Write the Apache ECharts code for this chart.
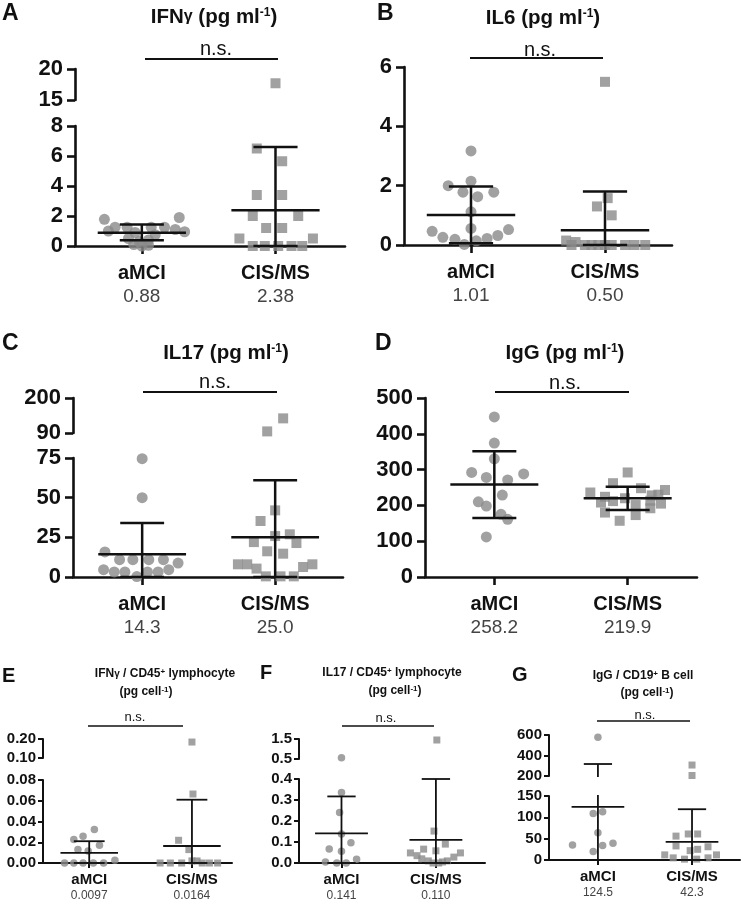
<!DOCTYPE html>
<html>
<head>
<meta charset="utf-8">
<script src="https://cdn.jsdelivr.net/npm/echarts@6/dist/echarts.min.js"></script>
<style>html,body{margin:0;padding:0;background:#fff}#c{width:744px;height:904px}</style>
</head>
<body>
<div id="c"></div>
<script>
// ---------------- DATA ----------------
const categories = ['aMCI', 'CIS/MS'];

// A: IFNγ (pg/ml)
const ifngAmci = [1.78, 1.9, 1.25, 1.25, 1.25, 1.25, 1.1, 1.0, 0.95, 0.9, 0.75, 0.5, 0.4, 0.3, 0.1, 0.05, 0.0];
const ifngAmciJitter = [-0.28, 0.28, -0.2, -0.11, 0.07, 0.17, 0.25, -0.25, 0.32, -0.05, 0.1, -0.1, 0.05, -0.02, -0.06, 0.05, 0.0];
const ifngCis = [17.7, 6.5, 5.65, 3.4, 3.4, 2.0, 2.0, 1.2, 1.2, 0.5, 0.5, 0.0, 0.0, 0.0, 0.0, 0.0];
const ifngCisJitter = [0, -0.14, 0.05, -0.14, 0.05, -0.17, 0.17, -0.07, 0.05, -0.27, 0.28, -0.17, -0.08, 0.02, 0.12, 0.2];
const ifngMean = [0.88, 2.38];
const ifngSdLow = [0.38, 0];
const ifngSdHigh = [1.44, 6.6];
const ifngLowerTicks = [0, 2, 4, 6, 8];
const ifngUpperTicks = [15, 20];

// B: IL6 (pg/ml)
const il6Amci = [3.17, 2.15, 2.0, 1.78, 1.63, 1.78, 1.12, 0.56, 0.46, 0.52, 0.26, 0.32, 0.19, 0.22, 0.14, 0.02];
const il6AmciJitter = [0, 0, -0.17, -0.06, 0.05, 0.17, 0, 0, -0.29, 0.28, -0.21, 0.2, -0.12, 0.12, 0.04, -0.05];
const il6Cis = [5.5, 1.58, 1.3, 1.0, 0.15, 0.1, 0, 0, 0, 0, 0, 0, 0, 0, 0];
const il6CisJitter = [0, 0.02, -0.06, 0.05, -0.29, -0.22, -0.25, -0.15, -0.05, 0.0, 0.05, 0.15, 0.22, 0.3, -0.1];
const il6Mean = [1.01, 0.50];
const il6SdLow = [0.06, 0];
const il6SdHigh = [1.97, 1.8];
const il6LowerTicks = [0, 2, 4, 6];

// C: IL17 (pg/ml)
const il17Amci = [74.6, 50, 15.8, 10.9, 10.9, 10.9, 10.9, 8.8, 4.6, 3.2, 3.2, 0.3, 3.2, 3.2, 4.6];
const il17AmciJitter = [0, 0, -0.28, -0.17, -0.07, 0.05, 0.16, 0.27, -0.29, -0.21, -0.13, -0.04, 0.04, 0.12, 0.2];
const il17Cis = [136, 95, 42, 35.3, 26.9, 25.8, 22, 21.4, 16.2, 14.7, 8, 8, 5.3, 6.3, 8, 0.4, 0.4, 0.4];
const il17CisJitter = [0.06, -0.06, 0, -0.11, 0.11, 0, -0.16, 0.16, -0.06, 0.06, -0.28, -0.21, -0.14, 0.21, 0.28, -0.07, 0.04, 0.14];
const il17Mean = [14.3, 25.0];
const il17SdLow = [0, 0];
const il17SdHigh = [34, 61];
const il17LowerTicks = [0, 25, 50, 75];
const il17UpperTicks = [90, 200];

// D: IgG (pg/ml)
const iggAmci = [447, 374, 330, 292, 278, 288, 271, 229, 210, 198, 175, 161, 112];
const iggAmciJitter = [0, 0, 0, -0.17, -0.06, 0.22, 0.1, 0.06, -0.12, -0.06, 0.05, 0.1, -0.06];
const iggCis = [292, 262, 248, 236, 243, 224, 220, 228, 208, 212, 201, 213, 180, 173, 192, 157, 230, 205];
const iggCisJitter = [0, -0.11, 0.1, -0.28, 0.28, -0.17, -0.02, 0.18, -0.2, -0.11, 0.06, 0.17, -0.17, 0.06, 0.17, -0.06, 0.23, 0.25];
const iggMean = [258.2, 219.9];
const iggSdLow = [165, 187];
const iggSdHigh = [351, 252];
const iggLowerTicks = [0, 100, 200, 300, 400, 500];

// E: IFNγ / CD45+ lymphocyte (pg/cell)
const ifngCellAmci = [0.0323, 0.0258, 0.0226, 0.0171, 0.0129, 0.0116, 0, 0, 0, 0, 0, 0.0026];
const ifngCellAmciJitter = [0.05, -0.06, -0.15, 0.1, -0.11, -0.01, -0.24, -0.15, -0.06, 0.04, 0.14, 0.25];
const ifngCellCis = [0.184, 0.0665, 0.0219, 0.0129, 0, 0, 0, 0.002, 0, 0, 0, 0.002];
const ifngCellCisJitter = [0, 0.01, -0.13, -0.03, -0.31, -0.21, -0.1, 0, 0.1, 0.17, 0.25, 0.05];
const ifngCellMean = [0.0097, 0.0164];
const ifngCellSdLow = [0, 0];
const ifngCellSdHigh = [0.021, 0.061];
const ifngCellLowerTicks = [0, 0.02, 0.04, 0.06, 0.08];
const ifngCellUpperTicks = [0.10, 0.20];

// F: IL17 / CD45+ lymphocyte (pg/cell)
const il17CellAmci = [0.56, 0.336, 0.24, 0.138, 0.096, 0.067, 0.056, 0.005, 0, 0, 0.018];
const il17CellAmciJitter = [0, 0, -0.02, 0, 0.1, -0.13, 0, -0.17, -0.05, 0.05, 0.16];
const il17CellCis = [1.45, 0.152, 0.09, 0.066, 0.058, 0.048, 0.035, 0.048, 0.02, 0.028, 0.01, 0.01, 0, 0, 0.005];
const il17CellCisJitter = [0.01, -0.02, 0.1, -0.13, 0, -0.27, -0.2, 0.26, -0.15, 0.19, -0.08, 0.12, 0.03, -0.03, 0.07];
const il17CellMean = [0.141, 0.110];
const il17CellSdLow = [0, 0];
const il17CellSdHigh = [0.317, 0.40];
const il17CellLowerTicks = [0, 0.1, 0.2, 0.3, 0.4];
const il17CellUpperTicks = [0.5, 1.5];

// G: IgG / CD19+ B cell (pg/cell)
const iggCellAmci = [577, 109, 113, 64, 35, 34, 39, 20];
const iggCellAmciJitter = [0, -0.05, 0.05, 0, -0.27, 0.05, 0.16, -0.05];
const iggCellCis = [307, 205, 56, 61, 61, 33, 25, 31, 22, 12, 12, 5, 2, 2, 5];
const iggCellCisJitter = [0, 0, -0.17, -0.04, 0.06, -0.17, 0.06, 0.17, -0.02, -0.29, 0.26, -0.2, -0.08, 0.05, 0.17];
const iggCellMean = [124.5, 42.3];
const iggCellSdLow = [0, 0];
const iggCellSdHigh = [317, 119];
const iggCellLowerTicks = [0, 50, 100, 150];
const iggCellUpperTicks = [200, 400, 600];

// ---------------- STYLE / LAYOUT ----------------
const FONT = '"Liberation Sans", Arial, Helvetica, sans-serif';
const INK = '#111111';
const GRAY = '#8a8a8a';
const VALCOL = '#444444';

const STY = {
  big: { tick: 22, cat: 20, val: 19, title: 20.5, sup: 12, letter: 23, ns: 20, lw: 2.5, axisW: 2.6, tickLen: 8,
         circle: 11, square: 10, meanHW: 0.33, capHW: 0.165, catMargin: 15, catLH: 24, yMargin: 12, nsW: 2 },
  small: { tick: 15, cat: 15, val: 12, title: 12, sup: 8, letter: 20, ns: 13, lw: 1.8, axisW: 2, tickLen: 5,
         circle: 7.5, square: 7, meanHW: 0.28, capHW: 0.15, catMargin: 9, catLH: 16, yMargin: 7, nsW: 1.6 }
};

const panels = [
  { id: 'A', size: 'big', title: 'IFN{g|γ} (pg ml{s|-1})',
    groups: [[ifngAmci, ifngAmciJitter], [ifngCis, ifngCisJitter]],
    mean: ifngMean, low: ifngSdLow, high: ifngSdHigh, meanDec: 2, tickDec: 0,
    lowerTicks: ifngLowerTicks, upperTicks: ifngUpperTicks,
    L: { left: 75, right: 345, xMin: 0.5, xMax: 2.52, lowTop: 126, bottom: 246, upTop: 69, upBottom: 100,
         letter: [2, 14], title: [214, 17], ns: [216, 49], nsLine: [145, 278, 59] } },
  { id: 'B', size: 'big', title: 'IL6 (pg ml{s|-1})',
    groups: [[il6Amci, il6AmciJitter], [il6Cis, il6CisJitter]],
    mean: il6Mean, low: il6SdLow, high: il6SdHigh, meanDec: 2, tickDec: 0,
    lowerTicks: il6LowerTicks, upperTicks: null,
    L: { left: 404, right: 672, xMin: 0.5, xMax: 2.5, lowTop: 67, bottom: 245,
         letter: [377, 14], title: [543, 18], ns: [540, 50], nsLine: [470, 603, 58] } },
  { id: 'C', size: 'big', title: 'IL17 (pg ml{s|-1})',
    groups: [[il17Amci, il17AmciJitter], [il17Cis, il17CisJitter]],
    mean: il17Mean, low: il17SdLow, high: il17SdHigh, meanDec: 1, tickDec: 0,
    lowerTicks: il17LowerTicks, upperTicks: il17UpperTicks,
    L: { left: 73, right: 343, xMin: 0.48, xMax: 2.51, lowTop: 458, bottom: 577, upTop: 398, upBottom: 433,
         letter: [2, 344], title: [226, 353], ns: [215, 382], nsLine: [143, 277, 392] } },
  { id: 'D', size: 'big', title: 'IgG (pg ml{s|-1})',
    groups: [[iggAmci, iggAmciJitter], [iggCis, iggCisJitter]],
    mean: iggMean, low: iggSdLow, high: iggSdHigh, meanDec: 1, tickDec: 0,
    lowerTicks: iggLowerTicks, upperTicks: null,
    L: { left: 425, right: 697, xMin: 0.48, xMax: 2.52, lowTop: 398, bottom: 577,
         letter: [375, 344], title: [565, 353], ns: [565, 383], nsLine: [495, 629, 392] } },
  { id: 'E', size: 'small', title: 'IFN{g|γ} / CD45{s|+} lymphocyte', title2: '(pg cell{s|-1})',
    groups: [[ifngCellAmci, ifngCellAmciJitter], [ifngCellCis, ifngCellCisJitter]],
    mean: ifngCellMean, low: ifngCellSdLow, high: ifngCellSdHigh, meanDec: 4, tickDec: 2,
    lowerTicks: ifngCellLowerTicks, upperTicks: ifngCellUpperTicks,
    L: { left: 43, right: 232, xMin: 0.55, xMax: 2.39, lowTop: 780, bottom: 863, upTop: 739, upBottom: 758,
         letter: [2, 676], title: [165, 674], title2: [146, 692], ns: [135, 717], nsLine: [88, 183, 726] } },
  { id: 'F', size: 'small', title: 'IL17 / CD45{s|+} lymphocyte', title2: '(pg cell{s|-1})',
    groups: [[il17CellAmci, il17CellAmciJitter], [il17CellCis, il17CellCisJitter]],
    mean: il17CellMean, low: il17CellSdLow, high: il17CellSdHigh, meanDec: 3, tickDec: 1,
    lowerTicks: il17CellLowerTicks, upperTicks: il17CellUpperTicks,
    L: { left: 299, right: 485, xMin: 0.55, xMax: 2.52, lowTop: 779, bottom: 863, upTop: 739, upBottom: 759,
         letter: [260, 673], title: [392, 673], title2: [395, 691], ns: [386, 718], nsLine: [342, 434, 726] } },
  { id: 'G', size: 'small', title: 'IgG / CD19{s|+} B cell', title2: '(pg cell{s|-1})',
    groups: [[iggCellAmci, iggCellAmciJitter], [iggCellCis, iggCellCisJitter]],
    mean: iggCellMean, low: iggCellSdLow, high: iggCellSdHigh, meanDec: 1, tickDec: 0,
    lowerTicks: iggCellLowerTicks, upperTicks: iggCellUpperTicks,
    L: { left: 549, right: 740, xMin: 0.48, xMax: 2.51, lowTop: 796, bottom: 860, upTop: 735, upBottom: 776,
         letter: [512, 675], title: [643, 676], title2: [647, 693], ns: [645, 715], nsLine: [597, 690, 721] } }
];

// ---------------- BUILD ----------------
const option = { animation: false, backgroundColor: '#ffffff', grid: [], xAxis: [], yAxis: [], series: [], graphic: [] };

function lineSeg(idx, pts, S) {
  return { type: 'line', xAxisIndex: idx, yAxisIndex: idx, data: pts, symbol: 'none', silent: true,
           clip: true, z: 5, lineStyle: { color: INK, width: S.lw, cap: 'butt' } };
}
function richTitle(S) {
  return {
    s: { fontSize: S.sup, fontWeight: 'bold', fontFamily: FONT, fill: INK, color: INK, verticalAlign: 'top' },
    g: { fontSize: Math.round(S.title * 0.8), fontWeight: 'bold', fontFamily: FONT, fill: INK, color: INK }
  };
}
function textEl(x, y, text, size, weight, align, rich) {
  const st = { text: text, fontSize: size, fontWeight: weight, fontFamily: FONT, fill: INK,
               align: align, textAlign: align, verticalAlign: 'middle', textVerticalAlign: 'middle' };
  if (rich) st.rich = rich;
  return { type: 'text', x: x, y: y, style: st, silent: true, z: 10 };
}

panels.forEach(p => {
  const S = STY[p.size];
  const L = p.L;
  const lt = p.lowerTicks;
  const lowerMin = lt[0], lowerMax = lt[lt.length - 1], lowInt = lt[1] - lt[0];
  const axisLineStyle = { color: INK, width: S.axisW };

  // lower grid
  const gi = option.grid.length;
  option.grid.push({ left: L.left, top: L.lowTop, width: L.right - L.left, height: L.bottom - L.lowTop });
  option.xAxis.push({
    gridIndex: gi, type: 'value', min: L.xMin, max: L.xMax, splitLine: { show: false },
    axisLine: { show: true, onZero: false, lineStyle: axisLineStyle },
    axisTick: { show: true, customValues: [1, 2], length: S.tickLen, lineStyle: axisLineStyle },
    axisLabel: {
      show: true, customValues: [1, 2], margin: S.catMargin,
      formatter: v => { const i = Math.round(v) - 1; return '{c|' + categories[i] + '}\n{v|' + p.mean[i].toFixed(p.meanDec) + '}'; },
      rich: {
        c: { fontSize: S.cat, fontWeight: 'bold', fontFamily: FONT, color: INK, lineHeight: S.catLH },
        v: { fontSize: S.val, fontFamily: FONT, color: VALCOL, lineHeight: S.catLH }
      }
    }
  });
  option.yAxis.push({
    gridIndex: gi, type: 'value', min: lowerMin, max: lowerMax, interval: lowInt, splitLine: { show: false },
    axisLine: { show: true, lineStyle: axisLineStyle },
    axisTick: { show: true, length: S.tickLen, lineStyle: axisLineStyle },
    axisLabel: { fontSize: S.tick, fontWeight: 'bold', fontFamily: FONT, color: INK, margin: S.yMargin,
                 formatter: v => v.toFixed(p.tickDec) }
  });

  // upper grid (broken axis)
  let ui = null, upOff = 0;
  if (p.upperTicks) {
    const ut = p.upperTicks;
    upOff = ut[0];
    ui = option.grid.length;
    option.grid.push({ left: L.left, top: L.upTop, width: L.right - L.left, height: L.upBottom - L.upTop });
    option.xAxis.push({ gridIndex: ui, type: 'value', min: L.xMin, max: L.xMax, show: false, splitLine: { show: false } });
    option.yAxis.push({
      gridIndex: ui, type: 'value', min: 0, max: ut[ut.length - 1] - ut[0], interval: ut[1] - ut[0],
      splitLine: { show: false },
      axisLine: { show: true, lineStyle: axisLineStyle },
      axisTick: { show: true, length: S.tickLen, lineStyle: axisLineStyle },
      axisLabel: { fontSize: S.tick, fontWeight: 'bold', fontFamily: FONT, color: INK, margin: S.yMargin,
                   formatter: v => (v + upOff).toFixed(p.tickDec) }
    });
  }

  // scatter points
  p.groups.forEach((g, gIdx) => {
    const vals = g[0], jit = g[1];
    const lo = [], up = [];
    vals.forEach((v, k) => {
      const x = gIdx + 1 + jit[k];
      if (ui !== null && v > lowerMax) up.push([x, v - upOff]); else lo.push([x, v]);
    });
    const sym = gIdx === 0 ? 'circle' : 'rect';
    const size = gIdx === 0 ? S.circle : S.square;
    option.series.push({ type: 'scatter', xAxisIndex: gi, yAxisIndex: gi, data: lo, symbol: sym, symbolSize: size,
                         clip: false, silent: true, z: 3, itemStyle: { color: GRAY } });
    if (ui !== null && up.length) {
      option.series.push({ type: 'scatter', xAxisIndex: ui, yAxisIndex: ui, data: up, symbol: sym, symbolSize: size,
                           clip: false, silent: true, z: 3, itemStyle: { color: GRAY } });
    }
  });

  // mean ± SD bars
  [0, 1].forEach(i => {
    const x = i + 1, m = p.mean[i], lo = p.low[i], hi = p.high[i];
    const segs = [
      [[x - S.meanHW, m], [x + S.meanHW, m]],
      [[x - S.capHW, hi], [x + S.capHW, hi]],
      [[x - S.capHW, lo], [x + S.capHW, lo]],
      [[x, lo], [x, hi]]
    ];
    segs.forEach(s => option.series.push(lineSeg(gi, s, S)));
    if (ui !== null && hi > lowerMax) {
      segs.forEach(s => option.series.push(lineSeg(ui, s.map(pt => [pt[0], pt[1] - upOff]), S)));
    }
  });

  // annotations
  option.graphic.push(textEl(L.letter[0], L.letter[1], p.id, S.letter, 'bold', 'left'));
  option.graphic.push(textEl(L.title[0], L.title[1], p.title, S.title, 'bold', 'center', richTitle(S)));
  if (p.title2) option.graphic.push(textEl(L.title2[0], L.title2[1], p.title2, S.title, 'bold', 'center', richTitle(S)));
  option.graphic.push(textEl(L.ns[0], L.ns[1], 'n.s.', S.ns, 'normal', 'center'));
  option.graphic.push({ type: 'line', silent: true, z: 10,
    shape: { x1: L.nsLine[0], y1: L.nsLine[2], x2: L.nsLine[1], y2: L.nsLine[2] },
    style: { stroke: INK, lineWidth: S.nsW } });
});

const chart = echarts.init(document.getElementById('c'), null, { renderer: 'canvas' });
chart.setOption(option);
</script>
</body>
</html>
